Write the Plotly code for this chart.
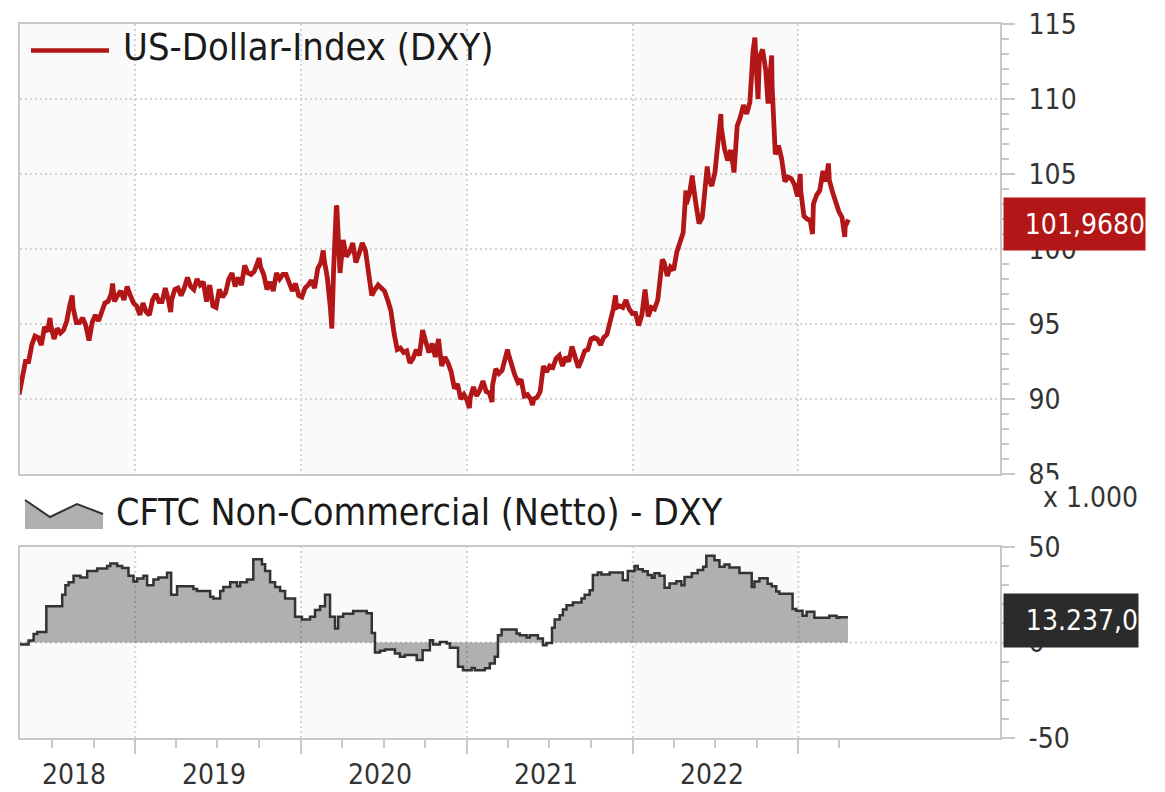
import pandas as pd
import plotly.graph_objects as go

FONT = "DejaVu Sans Condensed, DejaVu Sans, sans-serif"
RED = "#b21616"
DARK = "#2b2b2b"
AXC = "#c8c8c8"
GRID = "#d4d4d4"

# ---------------- data: US-Dollar-Index (DXY), weekly (Friday) values per year ----------------
dxy_2018_start = "2018-04-20"
dxy_2018 = [90.3, 91.6, 92.5, 92.5, 93.6, 94.2, 94.1, 93.6, 94.8, 94.5, 94.9, 94.0, 94.7, 94.4, 94.6,
            95.2, 96.3, 96.1, 95.1, 95.1, 95.4, 94.9, 93.9, 95.1, 95.6, 95.2, 95.7, 96.4, 96.5, 97.0,
            96.5, 96.9, 97.2, 96.6, 97.5, 96.9, 96.4]
dxy_2019_start = "2019-01-04"
dxy_2019 = [96.2, 95.6, 96.4, 95.8, 95.6, 96.6, 97.0, 96.5, 96.5, 97.4, 96.6, 96.6, 97.3, 97.4, 96.9,
            97.4, 98.1, 97.5, 97.3, 98.0, 97.6, 97.8, 96.5, 97.6, 96.2, 96.1, 97.3, 96.8, 97.1, 98.0,
            98.4, 97.5, 98.1, 97.6, 98.9, 98.4, 98.3, 98.5, 99.1, 98.8, 98.3, 97.3, 97.8, 97.2, 98.4,
            98.0, 98.3, 98.3, 97.7, 97.2, 97.7, 96.9]
dxy_2020_start = "2020-01-03"
dxy_2020 = [96.8, 97.4, 97.6, 97.9, 97.4, 98.7, 99.1, 99.3, 98.1, 96.0, 98.7, 102.8, 98.4, 100.6, 99.5,
            99.8, 100.4, 99.1, 99.7, 100.4, 99.9, 98.3, 96.9, 97.3, 97.6, 97.4, 97.2, 96.6, 95.9, 94.4,
            93.3, 93.4, 93.1, 93.2, 92.4, 92.7, 93.3, 92.9, 94.6, 93.8, 93.1, 93.7, 92.8, 94.0, 92.2,
            92.8, 92.4, 91.8, 90.7, 91.0, 90.0, 90.3]
dxy_2021_start = "2021-01-01"
dxy_2021 = [89.9, 90.1, 90.8, 90.2, 90.6, 91.2, 90.5, 90.4, 90.9, 92.0, 91.7, 91.9, 92.8, 93.0, 92.2,
            91.6, 91.1, 91.3, 90.2, 90.3, 90.0, 90.0, 90.1, 90.5, 92.2, 91.8, 92.2, 92.1, 92.7, 92.9,
            92.2, 92.8, 92.5, 93.5, 92.7, 92.1, 92.6, 93.2, 93.3, 94.0, 94.1, 94.0, 93.6, 94.1, 94.3,
            95.1, 96.0, 96.1, 96.2, 96.1, 96.6, 96.0, 95.7]
dxy_2022_start = "2022-01-07"
dxy_2022 = [95.7, 94.9, 95.6, 97.3, 95.5, 96.1, 96.0, 96.6, 98.6, 99.1, 98.2, 98.8, 98.6, 99.8, 100.5,
            101.1, 103.0, 103.7, 104.6, 103.0, 101.7, 102.1, 104.2, 104.7, 104.2, 105.1, 107.0, 108.1,
            106.7, 105.9, 106.6, 105.1, 108.2, 108.8, 109.6, 109.0, 109.8, 113.2, 112.1, 112.8, 113.3,
            111.9, 110.7, 110.8, 106.3, 106.9, 106.0, 104.5, 104.8, 104.7, 104.3, 103.5]
dxy_2023_start = "2023-01-06"
dxy_2023 = [103.9, 102.2, 102.0, 101.9, 103.0, 103.6, 103.9, 105.2, 104.5, 104.6, 103.8, 103.1, 102.5,
            102.1, 101.5, 101.968]
# intra-week highs / lows
dxy_extra_dates = ["2018-06-27", "2018-08-15", "2018-11-12", "2019-03-20", "2019-10-01", "2020-02-19",
                   "2020-03-09", "2020-03-19", "2021-01-06", "2021-02-25", "2021-03-31", "2021-05-25",
                   "2021-11-24", "2022-03-07", "2022-04-28", "2022-05-12", "2022-06-14", "2022-07-14",
                   "2022-09-27", "2022-10-04", "2022-10-13", "2022-10-26", "2022-11-03", "2023-01-05",
                   "2023-02-01", "2023-03-08", "2023-04-13"]
dxy_extra_values = [95.4, 96.9, 97.7, 95.8, 99.4, 99.9, 94.7, 102.9, 89.4, 89.8, 93.3, 89.6, 96.9,
                    99.3, 103.9, 104.9, 105.5, 109.0, 114.1, 110.0, 113.3, 109.7, 112.9, 105.0, 101.0,
                    105.7, 100.8]
dxy_last = "101,9680"

# ---------------- data: CFTC Non-Commercial net position (x 1.000), step changes ----------------
cftc_dates = [
    "2018-04-20", "2018-05-11", "2018-05-22", "2018-05-30", "2018-06-19", "2018-07-24", "2018-07-31",
    "2018-08-07", "2018-08-18", "2018-09-02", "2018-09-17", "2018-10-09", "2018-10-31", "2018-11-07",
    "2018-11-22", "2018-12-03", "2018-12-17", "2018-12-28",
    "2019-01-05", "2019-01-19", "2019-01-27", "2019-02-10", "2019-02-21", "2019-03-12", "2019-03-21",
    "2019-04-03", "2019-05-09", "2019-05-17", "2019-06-15", "2019-06-22", "2019-07-07", "2019-07-14",
    "2019-07-29", "2019-08-13", "2019-08-20", "2019-09-04", "2019-09-18", "2019-10-07", "2019-10-14",
    "2019-10-25", "2019-11-05", "2019-11-16", "2019-11-27", "2019-12-19",
    "2020-01-03", "2020-01-21", "2020-02-01", "2020-02-12", "2020-02-23", "2020-03-05", "2020-03-16",
    "2020-03-23", "2020-04-03", "2020-04-25", "2020-05-25", "2020-06-05", "2020-06-12", "2020-06-23",
    "2020-07-04", "2020-07-26", "2020-08-06", "2020-08-17", "2020-09-12", "2020-09-25", "2020-10-11",
    "2020-10-18", "2020-11-02", "2020-11-17", "2020-11-24", "2020-12-12", "2020-12-23",
    "2021-01-11", "2021-01-18", "2021-02-09", "2021-02-20", "2021-03-03", "2021-03-10", "2021-03-18",
    "2021-04-20", "2021-04-27", "2021-05-12", "2021-05-19", "2021-06-06", "2021-06-17", "2021-06-25",
    "2021-07-07", "2021-07-13", "2021-07-24", "2021-07-31", "2021-08-08", "2021-08-22", "2021-09-10",
    "2021-09-17", "2021-09-28", "2021-10-05", "2021-10-16", "2021-10-24", "2021-11-11", "2021-12-10",
    "2021-12-21",
    "2022-01-05", "2022-01-12", "2022-01-23", "2022-02-03", "2022-02-12", "2022-02-18", "2022-03-01",
    "2022-03-12", "2022-03-23", "2022-04-07", "2022-04-18", "2022-04-25", "2022-05-11", "2022-05-24",
    "2022-06-05", "2022-06-12", "2022-06-30", "2022-07-11", "2022-07-22", "2022-08-02", "2022-08-24",
    "2022-09-20", "2022-09-26", "2022-10-07", "2022-10-25", "2022-11-03", "2022-11-13", "2022-11-20",
    "2022-12-19", "2022-12-27",
    "2023-01-10", "2023-01-19", "2023-02-05", "2023-03-10", "2023-03-26", "2023-04-01", "2023-04-20"]
cftc_values = [
    -1.0, 1.0, 4.4, 5.5, 19.0, 25.0, 30.0, 31.5, 35.0, 34.0, 37.4, 38.8, 40.0, 41.4, 40.0, 39.0, 35.0, 32.0,
    33.5, 35.0, 30.0, 33.0, 34.0, 36.5, 25.0, 29.5, 28.0, 27.0, 24.0, 23.0, 27.0, 29.0, 31.5, 29.5, 31.5,
    33.0, 43.6, 41.0, 37.4, 31.5, 29.0, 27.0, 23.0, 13.5,
    12.0, 13.5, 17.0, 19.0, 25.0, 13.5, 7.3, 13.5, 15.0, 16.5, 15.3, 5.0, -5.2, -4.3, -3.7, -5.8, -7.5,
    -6.6, -9.2, -4.0, 1.2, -1.0, 0.3, -0.5, -2.8, -12.7, -14.5,
    -13.3, -14.5, -13.5, -11.0, -7.5, 3.8, 6.8, 4.7, 3.8, 2.6, 3.8, 2.1, -1.4, -0.2, 7.7, 12.0, 14.3,
    17.3, 19.5, 20.9, 23.0, 25.0, 27.4, 35.3, 36.6, 35.6, 36.6, 32.6, 37.5,
    40.1, 38.4, 37.3, 35.3, 33.9, 36.2, 35.0, 28.6, 30.9, 32.1, 30.0, 34.3, 36.2, 37.9, 39.7, 45.4, 43.0,
    39.6, 40.8, 39.3, 36.4, 29.0, 32.0, 33.6, 30.7, 29.5, 26.7, 25.5, 17.5, 16.6,
    14.0, 16.1, 12.9, 14.0, 12.9, 13.237, 13.237]
cftc_last = "13.237,0"

year_labels = ["2018", "2019", "2020", "2021", "2022"]
year_starts = ["2019-01-01", "2020-01-01", "2021-01-01", "2022-01-01", "2023-01-01"]
quarter_ticks = ["2018-07-01", "2018-10-01", "2019-04-01", "2019-07-01", "2019-10-01", "2020-04-01",
                 "2020-07-01", "2020-10-01", "2021-04-01", "2021-07-01", "2021-10-01", "2022-04-01",
                 "2022-07-01", "2022-10-01", "2023-04-01"]
x_range = ["2018-04-22", "2024-03-20"]
dxy_ticks = [85, 90, 95, 100, 105, 110, 115]
cftc_ticks = [-50, 0, 50]
cftc_ticktext = ["-50", "0", "50"]

# ---------------- build series ----------------
parts = []
for start, vals in [(dxy_2018_start, dxy_2018), (dxy_2019_start, dxy_2019), (dxy_2020_start, dxy_2020),
                    (dxy_2021_start, dxy_2021), (dxy_2022_start, dxy_2022), (dxy_2023_start, dxy_2023)]:
    parts.append(pd.Series(vals, index=pd.date_range(start, periods=len(vals), freq="W-FRI")))
parts.append(pd.Series(dxy_extra_values, index=pd.to_datetime(dxy_extra_dates)))
dxy = pd.concat(parts).sort_index()
dxy = dxy[~dxy.index.duplicated(keep="last")]

# ---------------- pixel helpers for layout placement ----------------
W, H = 1165, 792
L, R, T, B = 20, 165, 24, 54
PW, PH = W - L - R, H - T - B


def px(x):
    return (x - L) / PW


def py(y):
    return (H - B - y) / PH


top_dom = [py(474), 1.0]
bot_dom = [0.0, py(547)]

fig = go.Figure()
fig.add_trace(go.Scatter(x=dxy.index, y=dxy.values, mode="lines",
                         line=dict(color=RED, width=4.8), xaxis="x", yaxis="y",
                         showlegend=False, hoverinfo="skip"))
fig.add_trace(go.Scatter(x=pd.to_datetime(cftc_dates), y=cftc_values, mode="lines",
                         line=dict(color="#333333", width=2.5, shape="hv"),
                         fill="tozeroy", fillcolor="#b0b0b0", xaxis="x2", yaxis="y2",
                         showlegend=False, hoverinfo="skip"))

tickfont = dict(family=FONT, size=28, color="#333333")
common_x = dict(type="date", range=x_range, showline=True, mirror=True, linecolor=AXC, linewidth=2,
                tickmode="array", tickvals=year_starts, zeroline=False)
shapes = []
bands = [(x_range[0], "2019-01-01"), ("2020-01-01", "2021-01-01"), ("2022-01-01", "2023-01-01")]
for xr, yr in [("x", "y domain"), ("x2", "y2 domain")]:
    for a, b in bands:
        shapes.append(dict(type="rect", xref=xr, yref=yr, x0=a, x1=b, y0=0, y1=1,
                           fillcolor="#fafafa", line=dict(width=0), layer="below"))
# grid of lower panel drawn over the area
for yv in year_starts:
    shapes.append(dict(type="line", xref="x2", yref="y2 domain", x0=yv, x1=yv, y0=0, y1=1,
                       line=dict(color="rgba(0,0,0,0.17)", width=2, dash="2px,3px"), layer="above"))
shapes.append(dict(type="line", xref="x2 domain", yref="y2", x0=0, x1=1, y0=0, y1=0,
                   line=dict(color="rgba(0,0,0,0.17)", width=2, dash="2px,3px"), layer="above"))
# legend symbols
shapes.append(dict(type="line", xref="paper", yref="paper", x0=px(31), x1=px(109), y0=py(50.5), y1=py(50.5),
                   line=dict(color=RED, width=4.5)))
icon = [(25, 500), (50, 517), (77, 504), (103, 514)]
area_path = "M {},{} ".format(px(25), py(529)) + " ".join(
    "L {},{}".format(px(a), py(b)) for a, b in icon) + " L {},{} Z".format(px(103), py(529))
line_path = "M " + " L ".join("{},{}".format(px(a), py(b)) for a, b in icon)
shapes.append(dict(type="path", xref="paper", yref="paper", path=area_path, fillcolor="#b0b0b0",
                   line=dict(width=0)))
shapes.append(dict(type="path", xref="paper", yref="paper", path=line_path,
                   line=dict(color="#333333", width=2)))

ann = []
ann.append(dict(text="US-Dollar-Index (DXY)", xref="paper", yref="paper", x=px(121), y=py(47),
                xanchor="left", yanchor="middle", showarrow=False,
                font=dict(family=FONT, size=37.8, color="#1a1a1a")))
ann.append(dict(text="CFTC Non-Commercial (Netto) - DXY", xref="paper", yref="paper", x=px(114), y=py(512),
                xanchor="left", yanchor="middle", showarrow=False,
                font=dict(family=FONT, size=37.3, color="#1a1a1a")))
ann.append(dict(text="x 1.000", xref="paper", yref="paper", x=px(1041), y=py(497),
                xanchor="left", yanchor="middle", showarrow=False, bgcolor="white",
                font=tickfont))
ann.append(dict(text=dxy_last, xref="paper", yref="paper", x=px(1003), y=py(224),
                xanchor="left", yanchor="middle", showarrow=False, bgcolor=RED, width=141, height=52,
                borderpad=0, align="right", font=dict(family=FONT, size=28, color="white")))
ann.append(dict(text=cftc_last, xref="paper", yref="paper", x=px(1003), y=py(620.5),
                xanchor="left", yanchor="middle", showarrow=False, bgcolor=DARK, width=134, height=53,
                borderpad=0, align="right", font=dict(family=FONT, size=28, color="white")))
# year labels, centred on the visible part of each year
starts = [pd.Timestamp(x_range[0])] + [pd.Timestamp(y) for y in year_starts[:4]]
ends = [pd.Timestamp(y) for y in year_starts]
for lab, a, b in zip(year_labels, starts, ends):
    mid = a + (b - a) / 2
    ann.append(dict(text=lab, xref="x2", yref="paper", x=mid, y=py(774), xshift=-4,
                    xanchor="center", yanchor="middle", showarrow=False, font=tickfont))

minor_y = dict(ticks="outside", ticklen=7, tickwidth=2, tickcolor=AXC, showgrid=False)
fig.update_layout(
    width=W, height=H, margin=dict(l=L, r=R, t=T, b=B, autoexpand=False),
    paper_bgcolor="white", plot_bgcolor="white", showlegend=False,
    xaxis=dict(common_x, anchor="y", matches="x2", showticklabels=False, ticks="",
               showgrid=True, gridcolor=GRID, gridwidth=2, griddash="2px,3px"),
    xaxis2=dict(common_x, anchor="y2", showticklabels=False, ticks="outside", ticklen=14,
                tickwidth=2, tickcolor=AXC, showgrid=False,
                minor=dict(ticks="outside", tickmode="array", tickvals=quarter_ticks, ticklen=8,
                           tickwidth=2, tickcolor=AXC, showgrid=False)),
    yaxis=dict(domain=top_dom, anchor="x", side="right", range=[85, 115], tickmode="array",
               tickvals=dxy_ticks, ticks="outside", ticklen=13, tickwidth=2, tickcolor=AXC, showline=True,
               mirror=True, linecolor=AXC, linewidth=2, showgrid=True, gridcolor=GRID, gridwidth=2,
               griddash="2px,3px", zeroline=False, tickfont=tickfont, ticklabelstandoff=8,
               minor=dict(minor_y, tickmode="linear", tick0=85, dtick=1)),
    yaxis2=dict(domain=bot_dom, anchor="x2", side="right", range=[-50, 50], tickmode="array",
                tickvals=cftc_ticks, ticktext=cftc_ticktext, ticks="outside", ticklen=13, tickwidth=2,
                tickcolor=AXC, showline=True, mirror=True, linecolor=AXC, linewidth=2, showgrid=False,
                zeroline=False, tickfont=tickfont, ticklabelstandoff=8,
                minor=dict(minor_y, tickmode="linear", tick0=-50, dtick=10)),
    shapes=shapes, annotations=ann,
)

fig.write_html("out.html", config={"displayModeBar": False},
               post_script="document.body.style.margin='0px';document.body.style.padding='0px';")
